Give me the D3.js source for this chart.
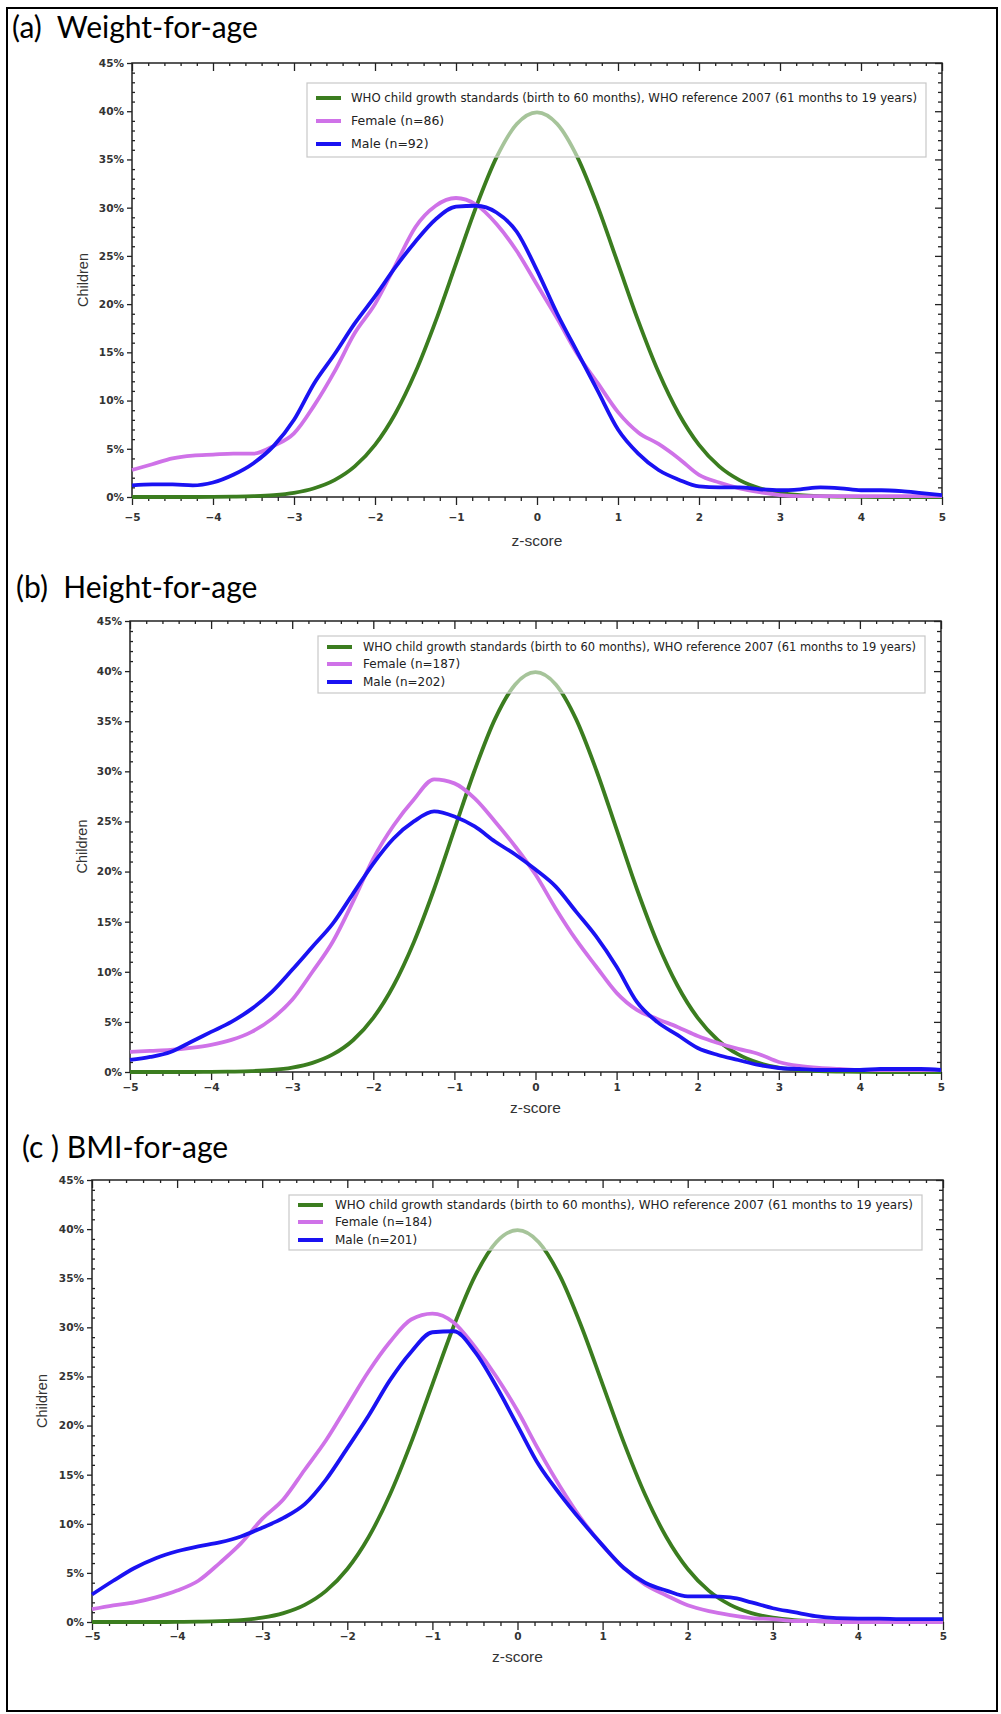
<!DOCTYPE html>
<html>
<head>
<meta charset="utf-8">
<script src="https://cdn.jsdelivr.net/npm/d3@7"></script>
<style>
  body { margin: 0; background: #fff; }
  svg { display: block; }
</style>
</head>
<body>
<script>
// z-score grid the curves are read at
const zScores = [-5, -4.75, -4.5, -4.25, -4, -3.75, -3.5, -3.25, -3, -2.75, -2.5, -2.25, -2, -1.75, -1.5, -1.25, -1, -0.75, -0.5, -0.25,
    0, 0.25, 0.5, 0.75, 1, 1.25, 1.5, 1.75, 2, 2.25, 2.5, 2.75, 3, 3.25, 3.5, 3.75, 4, 4.25, 4.5, 4.75, 5];
const xTicks = [-5, -4, -3, -2, -1, 0, 1, 2, 3, 4, 5];
const yTicks = [0, 5, 10, 15, 20, 25, 30, 35, 40, 45];

// WHO reference curve (% of children), same in all three panels
const whoRef = [0, 0, 0, 0, 0.01, 0.04, 0.09, 0.2, 0.44, 0.91, 1.75, 3.17, 5.4, 8.63, 12.95, 18.26, 24.2, 30.11, 35.21, 38.67,
    39.89, 38.67, 35.21, 30.11, 24.2, 18.26, 12.95, 8.63, 5.4, 3.17, 1.75, 0.91, 0.44, 0.2, 0.09, 0.04, 0.01, 0, 0, 0, 0];

// (a) weight-for-age
const weightFemale = [2.8, 3.4, 4.0, 4.3, 4.4, 4.5, 4.5, 5.3, 6.6, 9.5, 13.0, 17.0, 20.0, 24.0, 28.0, 30.2, 31.0, 30.3, 28.3, 25.5,
    22.0, 18.5, 14.8, 11.8, 8.8, 6.7, 5.5, 4.0, 2.3, 1.5, 0.9, 0.5, 0.2, 0.1, 0.1, 0.1, 0.1, 0.1, 0.1, 0.1, 0.1];
const weightMale = [1.2, 1.3, 1.3, 1.2, 1.5, 2.3, 3.5, 5.3, 8.0, 11.8, 14.8, 18.0, 20.8, 23.8, 26.5, 28.8, 30.1, 30.2, 29.5, 27.5,
    23.5, 19.0, 15.0, 11.0, 7.0, 4.5, 2.8, 1.8, 1.1, 1.0, 1.0, 0.8, 0.7, 0.8, 1.0, 0.9, 0.7, 0.7, 0.6, 0.4, 0.2];

// (b) height-for-age
const heightFemale = [2.0, 2.1, 2.2, 2.4, 2.7, 3.2, 4.0, 5.3, 7.2, 10.0, 13.0, 17.0, 21.3, 24.6, 27.2, 29.2, 28.8, 27.3, 25.0, 22.5,
    19.7, 16.3, 13.2, 10.5, 7.9, 6.2, 5.3, 4.5, 3.6, 2.9, 2.3, 1.8, 1.0, 0.6, 0.4, 0.3, 0.2, 0.2, 0.2, 0.2, 0.2];
const heightMale = [1.2, 1.5, 2.0, 3.0, 4.0, 5.0, 6.3, 8.0, 10.2, 12.5, 14.8, 17.8, 20.8, 23.3, 25.0, 26.0, 25.5, 24.5, 23.0, 21.7,
    20.2, 18.5, 16.0, 13.5, 10.5, 7.0, 5.0, 3.7, 2.4, 1.7, 1.2, 0.7, 0.4, 0.3, 0.2, 0.2, 0.2, 0.3, 0.3, 0.3, 0.2];

// (c) BMI-for-age
const bmiFemale = [1.3, 1.7, 2.0, 2.5, 3.2, 4.2, 6.0, 8.0, 10.5, 12.5, 15.5, 18.5, 22.0, 25.5, 28.5, 30.8, 31.4, 30.5, 28.0, 25.0,
    21.5, 17.5, 13.8, 10.5, 7.8, 5.5, 3.8, 2.7, 1.7, 1.1, 0.7, 0.4, 0.3, 0.1, 0.1, 0, 0, 0, 0, 0, 0];
const bmiMale = [2.8, 4.2, 5.5, 6.5, 7.2, 7.7, 8.1, 8.7, 9.6, 10.6, 12.0, 14.5, 17.7, 21.0, 24.6, 27.5, 29.5, 29.6, 27.5, 24.0,
    20.0, 16.0, 13.0, 10.3, 7.8, 5.5, 4.0, 3.2, 2.6, 2.6, 2.5, 2.0, 1.4, 1.0, 0.6, 0.4, 0.35, 0.35, 0.3, 0.3, 0.3];

const panelTitles = ['(a)  Weight-for-age', '(b)  Height-for-age', '(c ) BMI-for-age'];
const refLabel = 'WHO child growth standards (birth to 60 months), WHO reference 2007 (61 months to 19 years)';
const femaleLabels = ['Female (n=86)', 'Female (n=187)', 'Female (n=184)'];
const maleLabels = ['Male (n=92)', 'Male (n=202)', 'Male (n=201)'];

const colors = { who: '#3b7d1f', female: '#cf72e8', male: '#1a12f2' };

// layout for each panel (pixels)
const layouts = [
    { x0: 132, x1: 942, yTop: 63, yBot: 497, titleX: 12, titleY: 38, labelPad: 9, zY: 546, childX: 83,
      leg: { x: 307, y: 83, w: 619, h: 74, lineX: 316, textX: 351, rows: [98, 121, 144], font: 12.5 } },
    { x0: 130, x1: 941, yTop: 621, yBot: 1072, titleX: 16, titleY: 598, labelPad: 4, zY: 1113, childX: 82,
      leg: { x: 318, y: 636, w: 607, h: 57, lineX: 327, textX: 363, rows: [647, 664, 682], font: 12 } },
    { x0: 92, x1: 943, yTop: 1180, yBot: 1622, titleX: 22, titleY: 1158, labelPad: 3, zY: 1662, childX: 42,
      leg: { x: 289, y: 1195, w: 633, h: 55, lineX: 298, textX: 335, rows: [1205, 1222, 1240], font: 12 } }
];

const females = [weightFemale, heightFemale, bmiFemale];
const males = [weightMale, heightMale, bmiMale];

const svg = d3.select('body').append('svg')
    .attr('width', 1001)
    .attr('height', 1714);

// outer frame
svg.append('rect')
    .attr('x', 7).attr('y', 8)
    .attr('width', 990).attr('height', 1703)
    .attr('fill', 'none')
    .attr('stroke', '#000')
    .attr('stroke-width', 2);

function drawPanel(i) {
    const L = layouts[i];
    const g = svg.append('g').attr('class', 'panel');

    const x = d3.scaleLinear().domain([-5, 5]).range([L.x0, L.x1]);
    const y = d3.scaleLinear().domain([0, 45]).range([L.yBot, L.yTop]);

    g.append('text')
        .attr('x', L.titleX).attr('y', L.titleY)
        .attr('font-family', 'Lato, "Open Sans", sans-serif')
        .attr('font-size', 30)
        .attr('fill', '#000')
        .style('white-space', 'pre')
        .text(panelTitles[i]);

    const minorX = d3.range(-50, 51, 2).map(d => d / 10).filter(d => !Number.isInteger(d));
    const minorY = d3.range(0, 46).filter(d => d % 5 !== 0);

    // bottom axis: labels + outward ticks
    g.append('g')
        .attr('transform', 'translate(0,' + L.yBot + ')')
        .call(d3.axisBottom(x).tickValues(xTicks).tickSize(8).tickSizeOuter(0).tickPadding(L.labelPad)
            .tickFormat(d3.format('d')));
    g.append('g')
        .attr('transform', 'translate(0,' + L.yBot + ')')
        .call(d3.axisBottom(x).tickValues(minorX).tickSize(4).tickSizeOuter(0).tickFormat(''));

    // left axis
    g.append('g')
        .attr('transform', 'translate(' + L.x0 + ',0)')
        .call(d3.axisLeft(y).tickValues(yTicks).tickSize(5).tickSizeOuter(0).tickPadding(3)
            .tickFormat(d => d + '%'));
    g.append('g')
        .attr('transform', 'translate(' + L.x0 + ',0)')
        .call(d3.axisRight(y).tickValues(minorY).tickSize(3).tickSizeOuter(0).tickFormat(''));

    // top axis, ticks inside
    g.append('g')
        .attr('transform', 'translate(0,' + L.yTop + ')')
        .call(d3.axisBottom(x).tickValues(xTicks).tickSize(8).tickSizeOuter(0).tickFormat(''));
    g.append('g')
        .attr('transform', 'translate(0,' + L.yTop + ')')
        .call(d3.axisBottom(x).tickValues(minorX).tickSize(3).tickSizeOuter(0).tickFormat(''));

    // right axis, ticks inside
    g.append('g')
        .attr('transform', 'translate(' + L.x1 + ',0)')
        .call(d3.axisLeft(y).tickValues(yTicks).tickSize(7).tickSizeOuter(0).tickFormat(''));
    g.append('g')
        .attr('transform', 'translate(' + L.x1 + ',0)')
        .call(d3.axisLeft(y).tickValues(minorY).tickSize(4).tickSizeOuter(0).tickFormat(''));

    g.selectAll('.domain').remove();
    g.selectAll('.tick line').attr('stroke', '#222').attr('stroke-width', 1.3);
    g.selectAll('.tick text')
        .attr('font-family', '"DejaVu Sans", sans-serif')
        .attr('font-weight', 'bold')
        .attr('font-size', 10.5)
        .attr('fill', '#333');

    // plot frame
    g.append('rect')
        .attr('x', L.x0).attr('y', L.yTop)
        .attr('width', L.x1 - L.x0).attr('height', L.yBot - L.yTop)
        .attr('fill', 'none')
        .attr('stroke', '#222')
        .attr('stroke-width', 1.5);

    // axis titles
    g.append('text')
        .attr('x', (L.x0 + L.x1) / 2).attr('y', L.zY)
        .attr('text-anchor', 'middle')
        .attr('font-family', '"Liberation Sans", Arial, sans-serif')
        .attr('font-size', 15.5)
        .attr('fill', '#333')
        .text('z-score');
    g.append('text')
        .attr('transform', 'translate(' + (L.childX + 5) + ',' + (L.yTop + L.yBot) / 2 + ') rotate(-90)')
        .attr('text-anchor', 'middle')
        .attr('font-family', '"Liberation Sans", Arial, sans-serif')
        .attr('font-size', 14.5)
        .attr('fill', '#333')
        .text('Children');

    // curves
    const line = d3.line()
        .x((d, k) => x(zScores[k]))
        .y(d => y(d))
        .curve(d3.curveMonotoneX);

    const series = [
        { values: whoRef, color: colors.who },
        { values: females[i], color: colors.female },
        { values: males[i], color: colors.male }
    ];
    g.selectAll('path.curve')
        .data(series)
        .enter().append('path')
        .attr('class', 'curve')
        .attr('d', d => line(d.values))
        .attr('fill', 'none')
        .attr('stroke', d => d.color)
        .attr('stroke-width', 3.8)
        .attr('stroke-linejoin', 'round');

    // legend (semi-transparent, curves show through)
    const lg = L.leg;
    g.append('rect')
        .attr('x', lg.x).attr('y', lg.y)
        .attr('width', lg.w).attr('height', lg.h)
        .attr('fill', '#fff')
        .attr('fill-opacity', 0.55)
        .attr('stroke', '#c8c8c8')
        .attr('stroke-width', 1.2);

    const labels = [refLabel, femaleLabels[i], maleLabels[i]];
    const legColors = [colors.who, colors.female, colors.male];
    labels.forEach((lab, k) => {
        g.append('line')
            .attr('x1', lg.lineX).attr('x2', lg.lineX + 25)
            .attr('y1', lg.rows[k]).attr('y2', lg.rows[k])
            .attr('stroke', legColors[k])
            .attr('stroke-width', 4);
        const t = g.append('text')
            .attr('x', lg.textX).attr('y', lg.rows[k])
            .attr('dy', '0.35em')
            .attr('font-family', '"DejaVu Sans", sans-serif')
            .attr('font-size', lg.font)
            .attr('fill', '#222')
            .text(lab);
        if (k === 0) {
            t.attr('textLength', lg.x + lg.w - 9 - lg.textX).attr('lengthAdjust', 'spacingAndGlyphs');
        }
    });
}

for (let i = 0; i < 3; ++i) {
    drawPanel(i);
}
</script>
</body>
</html>
